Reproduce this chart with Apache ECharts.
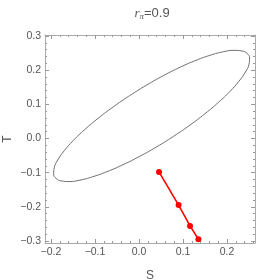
<!DOCTYPE html>
<html><head><meta charset="utf-8">
<script src="https://cdn.jsdelivr.net/npm/echarts@6/dist/echarts.min.js"></script>
<style>html,body{margin:0;padding:0;background:#fff}#c{width:274px;height:280px}</style>
</head><body><div id="c"></div>
<script>
// Ellipse contour points (S, T)
var ellipseS = [-0.0213,-0.0582,-0.0926,-0.1232,-0.1492,-0.1698,-0.1844,-0.1925,-0.1939,-0.1885,-0.1765,-0.1583,-0.1344,-0.1056,-0.0726,-0.0366,0.0014,0.0402,0.0787,0.1157,0.1500,0.1806,0.2066,0.2272,0.2418,0.2499,0.2513,0.2459,0.2339,0.2157,0.1918,0.1630,0.1300,0.0940,0.0560,0.0172,-0.0213];
var ellipseT = [0.1255,0.0929,0.0594,0.0262,-0.0058,-0.0357,-0.0625,-0.0854,-0.1036,-0.1167,-0.1242,-0.1261,-0.1220,-0.1122,-0.0970,-0.0769,-0.0524,-0.0243,0.0065,0.0391,0.0726,0.1058,0.1378,0.1677,0.1945,0.2173,0.2356,0.2487,0.2562,0.2580,0.2540,0.2442,0.2290,0.2089,0.1844,0.1563,0.1255];
// Red trajectory points
var redS = [0.0455, 0.090, 0.116, 0.135];
var redT = [-0.098, -0.195, -0.256, -0.295];
// Tick labels
var xTicks = [-0.2, -0.1, 0.0, 0.1, 0.2];
var yTicks = [-0.3, -0.2, -0.1, 0.0, 0.1, 0.2, 0.3];
var xRange = [-0.2136, 0.2636];
var yRange = [-0.306, 0.303];

function minors(lo, hi){var a=[];for(var i=Math.ceil(lo/0.02-1e-6);i*0.02<=hi+1e-9;i++){a.push(+(i*0.02).toFixed(2));}return a;}
var xMinor = minors(xRange[0], xRange[1]);
var yMinor = minors(yRange[0], yRange[1]);
function fmt(v){var s=Math.abs(v).toFixed(1);return (v< -1e-9?'\u2212':'')+s;}

var frameC = '#aaaaaa', labC = '#555555', tickC = '#999999';
var FONT = 'Liberation Sans, Arial, sans-serif';
function ax(pos, type, labels, ticks, len, showLine){
  return {type:'value', position:pos, min: type==='x'?xRange[0]:yRange[0], max: type==='x'?xRange[1]:yRange[1],
    axisLine:{show:showLine, onZero:false, lineStyle:{color:frameC, width:1}},
    axisTick:{show:true, inside:true, length:len, customValues:ticks, lineStyle:{color:tickC, width:1}},
    axisLabel:{show:!!labels, customValues:labels||[], formatter:fmt, color:labC, fontSize:10.5, fontFamily:FONT, margin:4},
    splitLine:{show:false}};
}
var xAxes = [ax('bottom','x',xTicks,xTicks,4,true), ax('bottom','x',null,xMinor,2,false), ax('top','x',null,xTicks,4,true), ax('top','x',null,xMinor,2,false)];
xAxes[0].name='S'; xAxes[0].nameLocation='middle'; xAxes[0].nameGap=27; xAxes[0].nameTextStyle={color:labC,fontSize:12,fontFamily:FONT};
var yAxes = [ax('left','y',yTicks,yTicks,4,true), ax('left','y',null,yMinor,2,false), ax('right','y',null,yTicks,4,true), ax('right','y',null,yMinor,2,false)];

var ell = ellipseS.map(function(s,i){return [s, ellipseT[i]];});
var red = redS.map(function(s,i){return [s, redT[i]];});

var chart = echarts.init(document.getElementById('c'), null, {renderer:'canvas'});
chart.setOption({
  animation:false,
  backgroundColor:'#fff',
  title:{text:'{i|r}{s|\u03c0}{n|=0.9}', left:147, top:1, textAlign:'center',
    textStyle:{fontWeight:'normal', rich:{i:{fontStyle:'italic',fontWeight:'normal',fontSize:13,color:labC,fontFamily:'Liberation Serif, serif'},
      s:{fontStyle:'italic',fontWeight:'normal',fontSize:9,color:labC,verticalAlign:'bottom',padding:[6,0,0,0],fontFamily:'Liberation Serif, serif'},
      n:{fontWeight:'normal',fontSize:13,color:labC,fontFamily:FONT}}}},
  graphic:[{type:'text', x:8, y:139, rotation:Math.PI/2,
    style:{text:'T', fill:labC, font:'12px '+FONT, textAlign:'center', textVerticalAlign:'middle'}}],
  grid:{left:45, right:19, top:35, bottom:37, containLabel:false, outerBoundsMode:'none'},
  xAxis:xAxes, yAxis:yAxes,
  series:[
    {type:'line', data:ell, smooth:true, showSymbol:false, symbol:'none', lineStyle:{color:'#6e6e6e', width:1}, xAxisIndex:0, yAxisIndex:0, z:2},
    {type:'line', data:red, symbol:'circle', symbolSize:6, itemStyle:{color:'#ff0000'}, lineStyle:{color:'#ff0000', width:1.6}, xAxisIndex:0, yAxisIndex:0, z:3}
  ]
});
</script></body></html>
